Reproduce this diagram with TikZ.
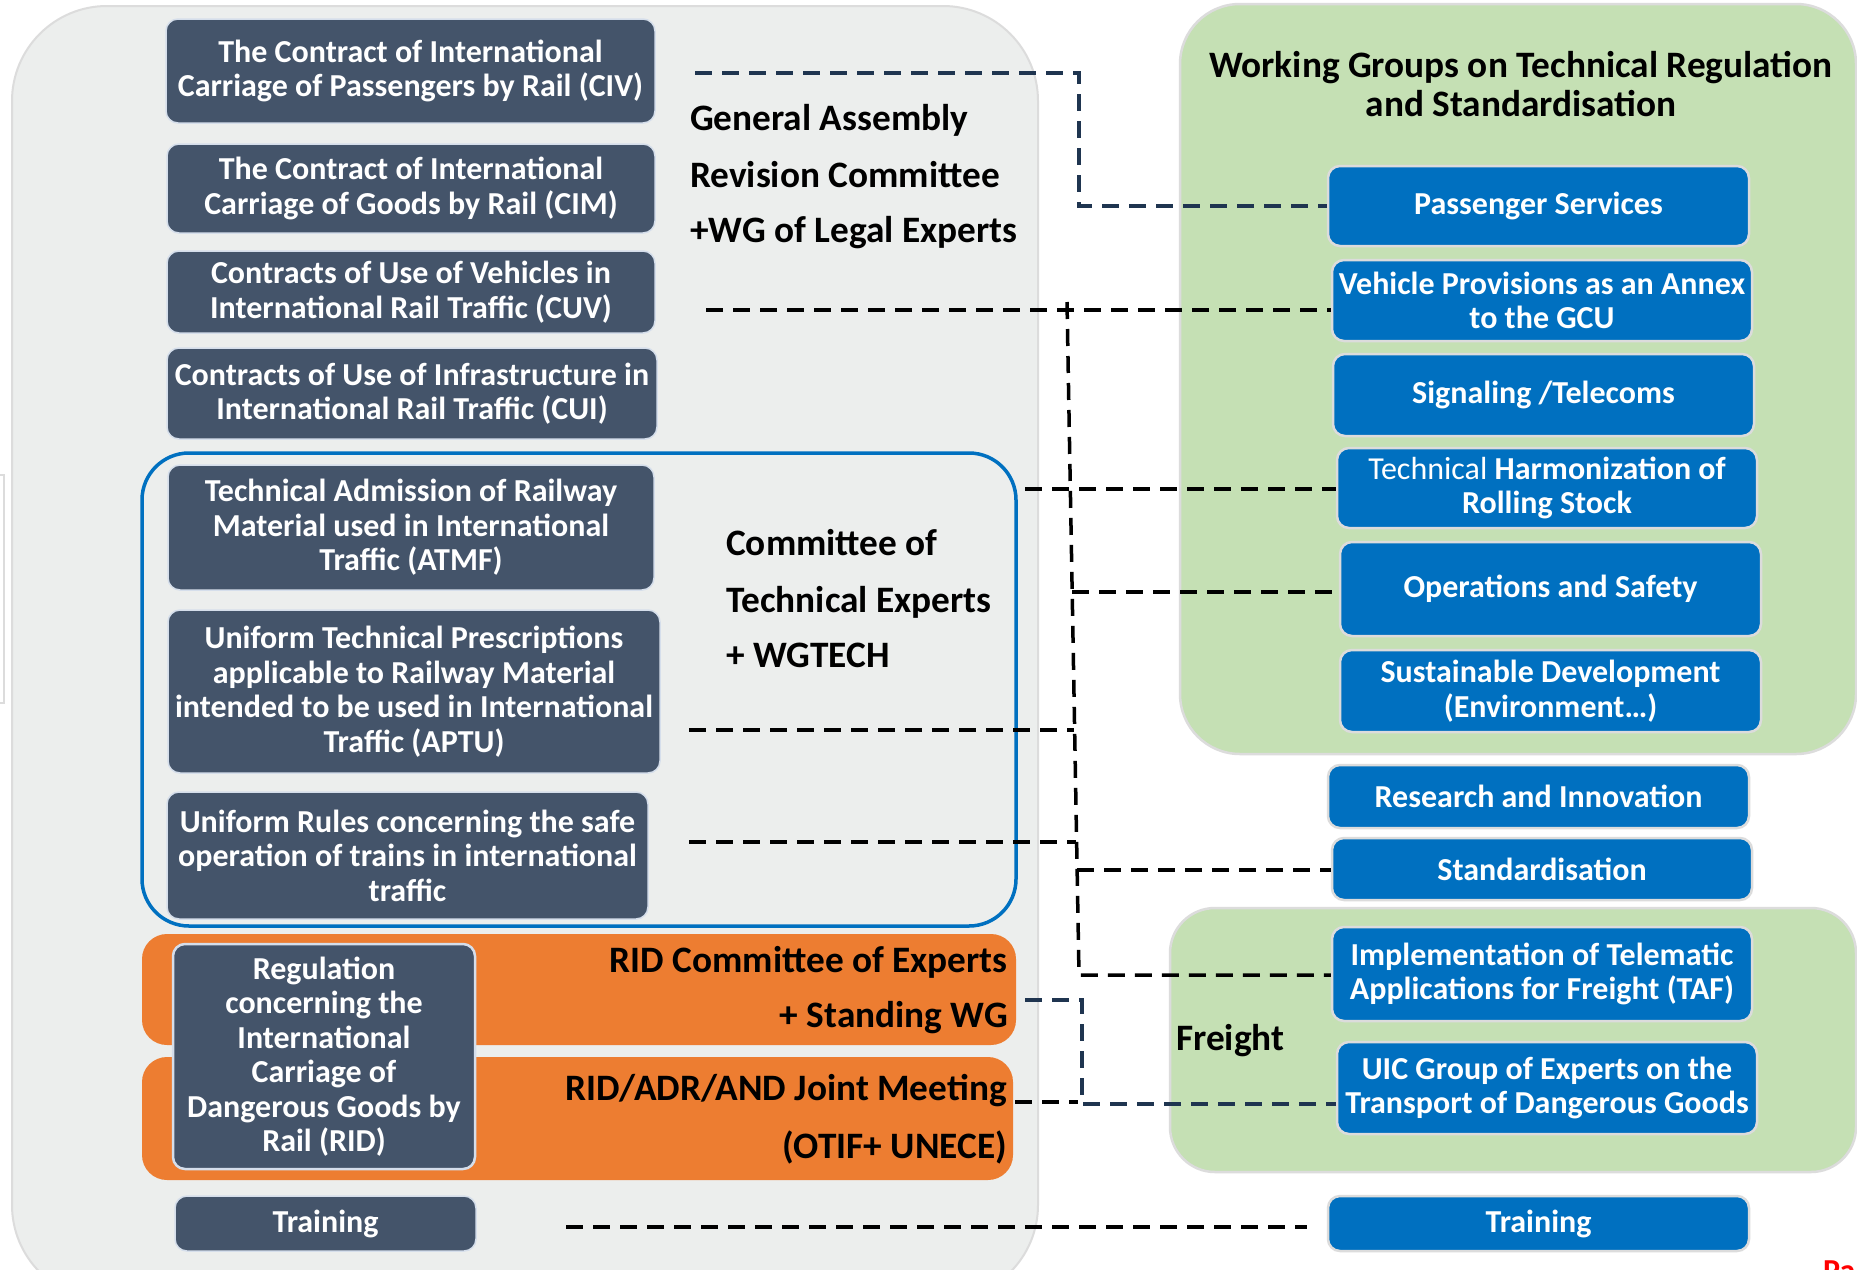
\documentclass[tikz,border=0pt]{standalone}
\usepackage{fontspec}
\setmainfont{Carlito}
\definecolor{darkbox}{HTML}{44546A}
\definecolor{wgblue}{HTML}{0070C0}
\definecolor{panelgray}{HTML}{ECEEED}
\definecolor{panelgreen}{HTML}{C5E0B4}
\definecolor{orangebar}{HTML}{ED7D31}
\definecolor{navyline}{HTML}{1F3550}
\definecolor{edgegray}{HTML}{DCDCDC}
\definecolor{darkedge}{HTML}{D5DEEB}
\newcommand\wgboxfont{\bfseries\fontsize{32}{34.5}\selectfont}
\newcommand\wgbigfont{\bfseries\fontsize{37.3}{40}\selectfont}
\tikzset{
  dbox/.style={rounded corners=12pt, fill=darkbox, draw=darkedge, line width=1.5pt, text=white, align=center, inner sep=0pt, font=\wgboxfont},
  bbox/.style={rounded corners=12pt, fill=wgblue, draw=edgegray, line width=2.5pt, text=white, align=center, inner sep=0pt, font=\wgboxfont},
  lbl/.style={anchor=base west, inner sep=0pt, font=\wgbigfont},
  rlbl/.style={anchor=base east, inner sep=0pt, font=\wgbigfont},
  clbl/.style={anchor=base, inner sep=0pt, font=\wgbigfont},
  conn/.style={draw=black, line width=3.5pt, dash pattern=on 17pt off 10pt},
  navyconn/.style={conn, draw=navyline}
}
\begin{document}
\begin{tikzpicture}[x=1pt,y=-1pt]
\useasboundingbox (0,0) rectangle (1857,1269);
\fill[white] (0,0) rectangle (1857,1269);

% panels
\draw[fill=panelgray, draw=edgegray, line width=2pt, rounded corners=95pt] (12,6) rectangle (1038,1300);
\draw[fill=white, draw=edgegray, line width=1.5pt] (-5,475) rectangle (4,703);
\draw[fill=panelgreen, draw=edgegray, line width=2.5pt, rounded corners=60pt] (1180,4) rectangle (1856,754);
\draw[fill=panelgreen, draw=edgegray, line width=2.5pt, rounded corners=45pt] (1170,908) rectangle (1856,1172);

% committee of technical experts border
\draw[wgblue, line width=3.5pt, rounded corners=47pt] (142,453) rectangle (1016,926);

% orange bars
\fill[orangebar, rounded corners=25pt] (142,934) rectangle (1016,1045);
\fill[orangebar, rounded corners=25pt] (142,1057) rectangle (1013,1180);

% left dark boxes
\node[dbox, minimum width=489pt, minimum height=104pt] (civ) at (410.5,71) {The Contract of International\\Carriage of Passengers by Rail (CIV)};
\node[dbox, minimum width=488pt, minimum height=89pt] (cim) at (411,188.5) {The Contract of International\\Carriage of Goods by Rail (CIM)};
\node[dbox, minimum width=488pt, minimum height=82pt] (cuv) at (411,292) {Contracts of Use of Vehicles in\\International Rail Traffic (CUV)};
\node[dbox, minimum width=490pt, minimum height=91pt] (cui) at (412,393.5) {Contracts of Use of Infrastructure in\\International Rail Traffic (CUI)};
\node[dbox, minimum width=486pt, minimum height=125pt] (atmf) at (411,527.5) {Technical Admission of Railway\\Material used in International\\Traffic (ATMF)};
\node[dbox, minimum width=492pt, minimum height=163pt] (aptu) at (414,691.5) {Uniform Technical Prescriptions\\applicable to Railway Material\\intended to be used in International\\Traffic (APTU)};
\node[dbox, minimum width=481pt, minimum height=127pt] (ur) at (407.5,855.5) {Uniform Rules concerning the safe\\operation of trains in international\\traffic};
\node[dbox, line width=2.5pt, minimum width=302pt, minimum height=225pt] (rid) at (324,1056.5) {Regulation\\concerning the\\International\\Carriage of\\Dangerous Goods by\\Rail (RID)};
\node[dbox, minimum width=301pt, minimum height=55pt] (trL) at (325.5,1223.5) {Training};

% left labels
\node[lbl] (ga1) at (690,130) {General Assembly};
\node[lbl] (ga2) at (690,187) {Revision Committee};
\node[lbl] (ga3) at (690,242) {+WG of Legal Experts};
\node[lbl] (ct1) at (726,555) {Committee of};
\node[lbl] (ct2) at (726,612) {Technical Experts};
\node[lbl] (ct3) at (726,667) {+ WGTECH};
\node[rlbl] (or1) at (1008,972) {RID Committee of Experts};
\node[rlbl] (or2) at (1008,1027) {+ Standing WG};
\node[rlbl] (or3) at (1007,1100) {RID/ADR/AND Joint Meeting};
\node[rlbl] (or4) at (1007,1158) {(OTIF+ UNECE)};

% right side
\node[clbl] (ti1) at (1521,77) {Working Groups on Technical Regulation};
\node[clbl] (ti2) at (1521,116) {and Standardisation};
\node[lbl] (frt) at (1176,1050) {Freight};

\node[bbox, minimum width=421pt, minimum height=80pt] (ps) at (1538.5,206) {Passenger Services};
\node[bbox, minimum width=420pt, minimum height=81pt] (vp) at (1542,300.5) {Vehicle Provisions as an Annex\\to the GCU};
\node[bbox, minimum width=421pt, minimum height=82pt] (sig) at (1543.5,395) {Signaling /Telecoms};
\node[bbox, minimum width=420pt, minimum height=80pt] (thr) at (1547,488) {{\mdseries Technical} Harmonization of\\Rolling Stock};
\node[bbox, minimum width=421pt, minimum height=94pt] (ops) at (1550.5,589) {Operations and Safety};
\node[bbox, minimum width=421pt, minimum height=82pt] (sus) at (1550.5,691) {Sustainable Development\\(Environment…)};
\node[bbox, minimum width=421pt, minimum height=63pt] (rni) at (1538.5,796.5) {Research and Innovation};
\node[bbox, minimum width=420pt, minimum height=62pt] (std) at (1542,869) {Standardisation};
\node[bbox, minimum width=420pt, minimum height=94pt] (taf) at (1542,974) {Implementation of Telematic\\Applications for Freight (TAF)};
\node[bbox, minimum width=420pt, minimum height=92pt] (uic) at (1547,1088) {UIC Group of Experts on the\\Transport of Dangerous Goods};
\node[bbox, minimum width=421pt, minimum height=55pt] (trR) at (1538.5,1223.5) {Training};

\node[anchor=north west, inner sep=0pt, text=red, font=\wgboxfont] (pg) at (1823,1261) {Pa};

% connectors
\coordinate (civS) at (695,73);
\coordinate (civC) at (1079,73);
\draw[navyconn] (civS) -- (civC) |- (ps.west);

\coordinate (cuvS) at (706,310);
\draw[conn] (cuvS) -- (cuvS -| vp.west);

\coordinate (tTop) at (1067,302);
\coordinate (tBot) at (1079,975);
\draw[conn] (tTop) -- (tBot) -- (tBot -| taf.west);

\coordinate (ctS) at (1025,489);
\draw[conn] (ctS) -- (ctS -| thr.west);
\coordinate (opsS) at (1072,592);
\draw[conn] (opsS) -- (opsS -| ops.west);
\coordinate (aptuS) at (689,730);
\coordinate (aptuE) at (1074,730);
\draw[conn] (aptuS) -- (aptuE);
\coordinate (urS) at (689,842);
\coordinate (urE) at (1076,842);
\draw[conn] (urS) -- (urE);
\coordinate (stdS) at (1077,870);
\draw[conn] (stdS) -- (stdS -| std.west);

\coordinate (ridS) at (1025,1000);
\coordinate (ridC) at (1082,1000);
\coordinate (ridD) at (1082,1104);
\draw[navyconn] (ridS) -- (ridC) -- (ridD) -- (ridD -| uic.west);
\coordinate (jmS) at (1015,1102);
\coordinate (jmE) at (1078,1102);
\draw[conn] (jmS) -- (jmE);

\coordinate (trS) at (566,1227);
\draw[conn, shorten >=20pt] (trS) -- (trS -| trR.west);
\end{tikzpicture}
\end{document}
